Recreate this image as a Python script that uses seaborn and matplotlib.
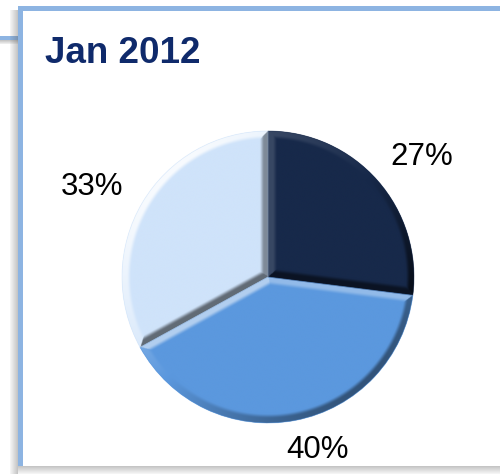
import numpy as np
import matplotlib
matplotlib.use("Agg")
import matplotlib.pyplot as plt
from matplotlib.patches import Rectangle, Wedge
from matplotlib.transforms import Affine2D
from matplotlib.colors import to_rgb
import seaborn as sns

# ---- data -------------------------------------------------------------
title = "Jan 2012"
shares = [27, 40, 33]                      # percent, clockwise from 12 o'clock
slice_colors = ["#17294a", "#5b98de", "#cfe3fa"]

# ---- styling ----------------------------------------------------------
label_radius = [1.337, 1.233, 1.354]       # label distance, in pie radii
label_turn = [-3.5, 5.3, 3.5]              # nudge from the slice bisector (deg)
highlight_gain = [0.20, 0.55, 0.85]        # how much each bevel brightens
shadow_gain = [0.85, 0.45, 0.55]           # how much each bevel darkens
bevel_width = 0.062

sns.set_theme(style="white")
plt.rcParams["font.family"] = ["Liberation Sans", "DejaVu Sans"]

W, H = 500, 474
fig = plt.figure(figsize=(W / 100, H / 100), dpi=100)
fig.patch.set_facecolor("white")

# pixel coordinates measured from the top-left corner
px = Affine2D().scale(1, -1).translate(0, H)


def box(x0, y0, x1, y1, color, alpha=1.0, z=-5):
    fig.add_artist(Rectangle((x0, y0), x1 - x0, y1 - y0, transform=px,
                             facecolor=color, edgecolor="none",
                             alpha=alpha, zorder=z))


# connector line on the left, with its soft shadow
for k in range(4):
    box(0, 40 + k, 20, 41 + k, "#6f6f6f", alpha=0.40 - 0.09 * k, z=-9)
box(0, 36, 20, 40, "#8db4e2", z=-8)

# frame shadow (left and bottom) built from fading gray bands
for k in range(8):
    box(18 - k - 1, 10, 18 - k, 474, "#5f5f5f", alpha=0.36 - 0.042 * k, z=-7)
    box(18, 466 + k, 520, 467 + k, "#5f5f5f", alpha=0.36 - 0.042 * k, z=-7)

# white panel with its light-blue rim
box(18, 6, 520, 466, "white", z=-6)
box(18, 6, 23, 466, "#8db4e2", z=-5)
box(18, 6, 520, 11, "#8db4e2", z=-5)

fig.text(45, 63, title, transform=px, fontsize=26.5, fontweight="bold",
         color="#0f2a6b", ha="left", va="baseline",
         family=["Liberation Sans", "DejaVu Sans"])

# ---- pie ----------------------------------------------------------------
unit = 146.0          # one pie radius in pixels
cx, cy = 268.0, 277.0
half = 1.5 * unit
ax = fig.add_axes([(cx - half) / W, (H - cy - half) / H, 2 * half / W, 2 * half / H])
ax.set_axis_off()

wedges, _ = ax.pie(shares, colors=slice_colors, startangle=90,
                   counterclock=False, radius=1.0,
                   wedgeprops=dict(linewidth=0))

# bevel shading: lit from the upper left
light = np.array([-1.0, 1.0]) / np.sqrt(2)
n = 700
g = np.linspace(-1.03, 1.03, n)
X, Y = np.meshgrid(g, g)

for i, w in enumerate(wedges):
    c = np.array(w.center)
    r = w.r
    t1, t2 = np.radians(w.theta1), np.radians(w.theta2)
    dx, dy = X - c[0], Y - c[1]
    rho = np.hypot(dx, dy) + 1e-9

    # outer arc
    d_arc = r - rho
    nx_arc, ny_arc = dx / rho, dy / rho
    # straight edges, outward normals
    n1 = np.array([np.sin(t1), -np.cos(t1)])
    n2 = np.array([-np.sin(t2), np.cos(t2)])
    d1 = -(dx * n1[0] + dy * n1[1])
    d2 = -(dx * n2[0] + dy * n2[1])

    d = np.minimum(d_arc, np.minimum(d1, d2))
    nx = np.where(d == d_arc, nx_arc, np.where(d == d1, n1[0], n2[0]))
    ny = np.where(d == d_arc, ny_arc, np.where(d == d1, n1[1], n2[1]))

    # flat chamfer with a soft inner shoulder
    t = np.clip((bevel_width - d) / (0.55 * bevel_width), 0, 1)
    t = t * t * (3 - 2 * t)
    s = nx * light[0] + ny * light[1]

    face = np.array(to_rgb(w.get_facecolor()))
    up = np.clip(s, 0, None) * t * highlight_gain[i]
    down = np.clip(-s, 0, None) * t * shadow_gain[i]
    rgb = face[None, None, :] + (1 - face[None, None, :]) * up[..., None]
    rgb = rgb * (1 - down[..., None])
    img = ax.imshow(np.clip(rgb, 0, 1), extent=[g[0], g[-1], g[0], g[-1]],
                    origin="lower", interpolation="bilinear", zorder=2)
    img.set_clip_path(w)

    # soften the clipped rim
    ax.add_patch(Wedge(w.center, w.r, w.theta1, w.theta2, facecolor="none",
                       edgecolor=face, alpha=0.45, linewidth=0.6, zorder=3))

    mid = np.radians((w.theta1 + w.theta2) / 2 + label_turn[i])
    ax.text(label_radius[i] * np.cos(mid), label_radius[i] * np.sin(mid),
            f"{shares[i]}%", ha="center", va="center", fontsize=22.5,
            color="black", zorder=4)

ax.set_xlim(-1.5, 1.5)
ax.set_ylim(-1.5, 1.5)
ax.set_aspect("equal")

fig.savefig("out.png", dpi=100, facecolor="white")
